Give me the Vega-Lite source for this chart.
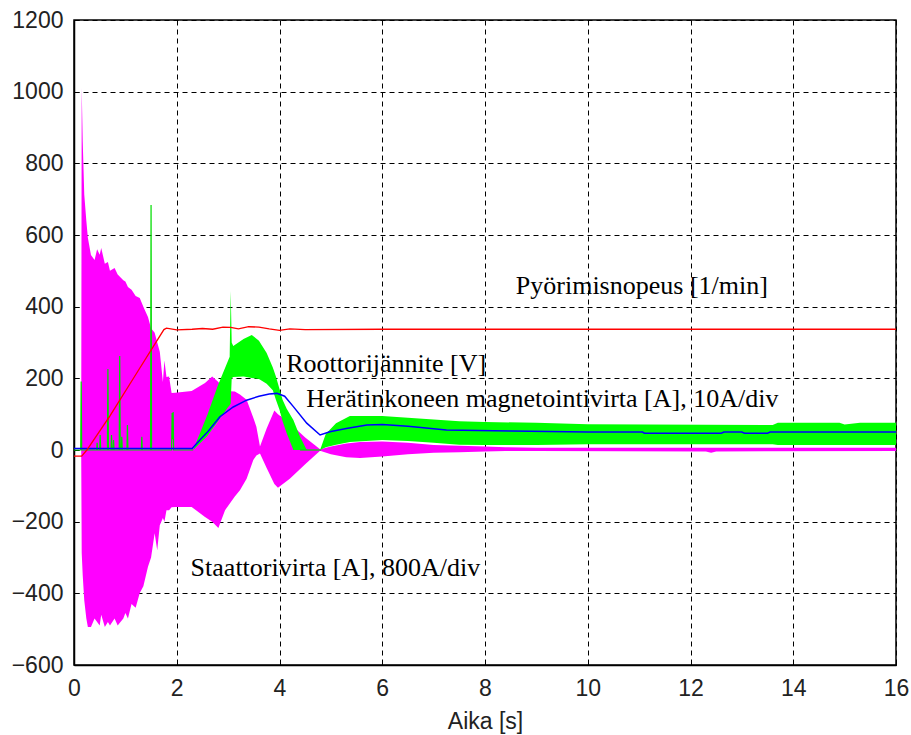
{
  "$schema": "https://vega.github.io/schema/vega-lite/v6.json",
  "width": 822,
  "height": 645,
  "autosize": {"type": "none"},
  "padding": {"left": 74, "top": 20, "right": 15, "bottom": 70},
  "background": "white",
  "config": {
    "view": {"stroke": "black", "strokeWidth": 1.5},
    "axis": {
      "labelFont": "Liberation Sans", "labelFontSize": 23, "labelColor": "#222",
      "titleFont": "Liberation Sans", "titleFontSize": 23, "titleFontWeight": "normal", "titleColor": "#222",
      "grid": true, "gridColor": "black", "gridDash": [5, 4], "gridOpacity": 1, "gridWidth": 1,
      "domainColor": "black", "domainWidth": 1.5, "tickColor": "black", "tickSize": -5
    }
  },
  "datasets": {
    "magenta": [
      {"t": 0.14, "lo": 0, "hi": 0},
      {"t": 0.15, "lo": -287, "hi": 1010},
      {"t": 0.17, "lo": -350, "hi": 860},
      {"t": 0.2, "lo": -420, "hi": 712},
      {"t": 0.24, "lo": -470, "hi": 640},
      {"t": 0.27, "lo": -494, "hi": 592},
      {"t": 0.33, "lo": -494, "hi": 544},
      {"t": 0.4, "lo": -470, "hi": 530},
      {"t": 0.45, "lo": -480, "hi": 560},
      {"t": 0.5, "lo": -490, "hi": 545},
      {"t": 0.53, "lo": -460, "hi": 564},
      {"t": 0.6, "lo": -494, "hi": 520},
      {"t": 0.66, "lo": -480, "hi": 525},
      {"t": 0.7, "lo": -490, "hi": 500},
      {"t": 0.79, "lo": -470, "hi": 508},
      {"t": 0.85, "lo": -490, "hi": 490},
      {"t": 0.96, "lo": -470, "hi": 474},
      {"t": 1.0, "lo": -455, "hi": 470},
      {"t": 1.05, "lo": -470, "hi": 455},
      {"t": 1.12, "lo": -430, "hi": 447},
      {"t": 1.2, "lo": -440, "hi": 430},
      {"t": 1.28, "lo": -399, "hi": 424},
      {"t": 1.35, "lo": -380, "hi": 400},
      {"t": 1.44, "lo": -326, "hi": 371},
      {"t": 1.5, "lo": -300, "hi": 340},
      {"t": 1.57, "lo": -232, "hi": 327},
      {"t": 1.62, "lo": -280, "hi": 300},
      {"t": 1.67, "lo": -210, "hi": 274},
      {"t": 1.73, "lo": -190, "hi": 190},
      {"t": 1.76, "lo": -200, "hi": 250},
      {"t": 1.8, "lo": -168, "hi": 204},
      {"t": 1.85, "lo": -168, "hi": 205},
      {"t": 1.9, "lo": -160, "hi": 159},
      {"t": 1.97, "lo": -159, "hi": 160},
      {"t": 2.29, "lo": -159, "hi": 165},
      {"t": 2.55, "lo": -187, "hi": 187},
      {"t": 2.69, "lo": -200, "hi": 205},
      {"t": 2.81, "lo": -218, "hi": 190},
      {"t": 2.94, "lo": -168, "hi": 165},
      {"t": 3.13, "lo": -130, "hi": 163},
      {"t": 3.23, "lo": -112, "hi": 155},
      {"t": 3.36, "lo": -80, "hi": 140},
      {"t": 3.49, "lo": -28, "hi": 90},
      {"t": 3.55, "lo": -15, "hi": 65},
      {"t": 3.62, "lo": -10, "hi": 10},
      {"t": 3.75, "lo": -50, "hi": 60},
      {"t": 3.9, "lo": -95, "hi": 110},
      {"t": 3.97, "lo": -105, "hi": 100},
      {"t": 4.2, "lo": -80, "hi": 75},
      {"t": 4.5, "lo": -40, "hi": 35},
      {"t": 4.79, "lo": -2, "hi": 2},
      {"t": 5.0, "lo": -12, "hi": 10},
      {"t": 5.3, "lo": -20, "hi": 18},
      {"t": 5.57, "lo": -22, "hi": 22},
      {"t": 6.0, "lo": -18, "hi": 24},
      {"t": 6.5, "lo": -12, "hi": 20},
      {"t": 7.0, "lo": -8, "hi": 14},
      {"t": 7.5, "lo": -6, "hi": 12},
      {"t": 8.0, "lo": -4, "hi": 10},
      {"t": 8.4, "lo": -3, "hi": 8},
      {"t": 9.0, "lo": -3, "hi": 6},
      {"t": 12.3, "lo": -4, "hi": 6},
      {"t": 12.4, "lo": -8, "hi": 6},
      {"t": 12.5, "lo": -4, "hi": 6},
      {"t": 16.0, "lo": -3, "hi": 6}
    ],
    "greenBand": [
      {"t": 2.32, "lo": 0, "hi": 0},
      {"t": 2.6, "lo": 40, "hi": 100},
      {"t": 2.8, "lo": 80, "hi": 180},
      {"t": 3.0, "lo": 120, "hi": 250},
      {"t": 3.03, "lo": 125, "hi": 260},
      {"t": 3.05, "lo": 130, "hi": 444},
      {"t": 3.07, "lo": 200, "hi": 300},
      {"t": 3.1, "lo": 204, "hi": 290},
      {"t": 3.3, "lo": 205, "hi": 310},
      {"t": 3.46, "lo": 201, "hi": 321},
      {"t": 3.6, "lo": 198, "hi": 305},
      {"t": 3.75, "lo": 185, "hi": 271},
      {"t": 3.87, "lo": 167, "hi": 230},
      {"t": 3.93, "lo": 140, "hi": 205},
      {"t": 4.0, "lo": 112, "hi": 170},
      {"t": 4.06, "lo": 80, "hi": 140},
      {"t": 4.14, "lo": 47, "hi": 115},
      {"t": 4.27, "lo": 0, "hi": 84},
      {"t": 4.4, "lo": 0, "hi": 37},
      {"t": 4.53, "lo": 0, "hi": 0},
      {"t": 4.79, "lo": 0, "hi": 0},
      {"t": 4.9, "lo": 8, "hi": 45},
      {"t": 5.1, "lo": 15, "hi": 75},
      {"t": 5.37, "lo": 22, "hi": 95},
      {"t": 6.0, "lo": 28, "hi": 95},
      {"t": 6.5, "lo": 25, "hi": 90},
      {"t": 7.0, "lo": 20, "hi": 85},
      {"t": 7.5, "lo": 15, "hi": 80},
      {"t": 8.0, "lo": 14, "hi": 78},
      {"t": 9.0, "lo": 14, "hi": 76},
      {"t": 10.0, "lo": 16, "hi": 72},
      {"t": 13.6, "lo": 16, "hi": 70},
      {"t": 13.7, "lo": 14, "hi": 76},
      {"t": 14.9, "lo": 14, "hi": 76},
      {"t": 15.0, "lo": 14, "hi": 71},
      {"t": 15.3, "lo": 14, "hi": 76},
      {"t": 16.0, "lo": 14, "hi": 76}
    ],
    "greenSpikes": [
      {"s": "a", "t": 0, "v": 0}, {"s": "a", "t": 0.13, "v": 0}, {"s": "a", "t": 0.14, "v": 191}, {"s": "a", "t": 0.15, "v": 0},
      {"s": "a", "t": 0.44, "v": 0}, {"s": "a", "t": 0.45, "v": 20}, {"s": "a", "t": 0.46, "v": 0},
      {"s": "a", "t": 0.5, "v": 0}, {"s": "a", "t": 0.51, "v": 42}, {"s": "a", "t": 0.52, "v": 0},
      {"s": "a", "t": 0.65, "v": 0}, {"s": "a", "t": 0.66, "v": 226}, {"s": "a", "t": 0.67, "v": 0},
      {"s": "a", "t": 0.72, "v": 0}, {"s": "a", "t": 0.73, "v": 42}, {"s": "a", "t": 0.74, "v": 0},
      {"s": "a", "t": 0.76, "v": 0}, {"s": "a", "t": 0.77, "v": 28}, {"s": "a", "t": 0.78, "v": 0},
      {"s": "a", "t": 0.88, "v": 0}, {"s": "a", "t": 0.89, "v": 262}, {"s": "a", "t": 0.9, "v": 0},
      {"s": "a", "t": 0.92, "v": 0}, {"s": "a", "t": 0.93, "v": 37}, {"s": "a", "t": 0.94, "v": 0},
      {"s": "a", "t": 1.03, "v": 0}, {"s": "a", "t": 1.04, "v": 70}, {"s": "a", "t": 1.05, "v": 0},
      {"s": "a", "t": 1.31, "v": 0}, {"s": "a", "t": 1.32, "v": 37}, {"s": "a", "t": 1.33, "v": 0},
      {"s": "a", "t": 1.49, "v": 0}, {"s": "a", "t": 1.5, "v": 684}, {"s": "a", "t": 1.51, "v": 0},
      {"s": "a", "t": 1.9, "v": 0}, {"s": "a", "t": 1.91, "v": 103}, {"s": "a", "t": 1.92, "v": 30}, {"s": "a", "t": 1.93, "v": 106}, {"s": "a", "t": 1.94, "v": 0},
      {"s": "a", "t": 2.32, "v": 0},
      {"s": "b", "t": 4.4, "v": 0}, {"s": "b", "t": 4.8, "v": 0}
    ],
    "blue": [
      {"t": 0, "v": 4}, {"t": 2.3, "v": 4}, {"t": 2.45, "v": 28}, {"t": 2.6, "v": 50},
      {"t": 2.84, "v": 93}, {"t": 3.1, "v": 120}, {"t": 3.36, "v": 139}, {"t": 3.6, "v": 150},
      {"t": 3.8, "v": 156}, {"t": 3.95, "v": 158}, {"t": 4.1, "v": 150}, {"t": 4.27, "v": 121},
      {"t": 4.53, "v": 75}, {"t": 4.79, "v": 42}, {"t": 4.98, "v": 51}, {"t": 5.3, "v": 60},
      {"t": 5.7, "v": 70}, {"t": 6.0, "v": 71}, {"t": 6.5, "v": 66}, {"t": 7.25, "v": 56},
      {"t": 8.5, "v": 53}, {"t": 10.0, "v": 50}, {"t": 11.07, "v": 50}, {"t": 11.1, "v": 47},
      {"t": 12.6, "v": 47}, {"t": 12.65, "v": 50}, {"t": 13.0, "v": 50}, {"t": 13.05, "v": 47},
      {"t": 13.5, "v": 47}, {"t": 13.55, "v": 50}, {"t": 16.0, "v": 50}
    ],
    "red": [
      {"t": 0, "v": -17}, {"t": 0.15, "v": -17}, {"t": 0.25, "v": 0}, {"t": 0.7, "v": 95},
      {"t": 1.2, "v": 210}, {"t": 1.75, "v": 336}, {"t": 1.8, "v": 340}, {"t": 2.0, "v": 335},
      {"t": 2.3, "v": 337}, {"t": 2.5, "v": 339}, {"t": 2.7, "v": 337}, {"t": 2.9, "v": 343},
      {"t": 3.05, "v": 342}, {"t": 3.2, "v": 338}, {"t": 3.4, "v": 344}, {"t": 3.6, "v": 343},
      {"t": 3.8, "v": 338}, {"t": 4.0, "v": 334}, {"t": 4.2, "v": 338}, {"t": 4.5, "v": 336},
      {"t": 6.0, "v": 337}, {"t": 10.0, "v": 337}, {"t": 16.0, "v": 337}
    ],
    "labels": [
      {"t": 8.6, "v": 435, "text": "Pyörimisnopeus [1/min]"},
      {"t": 4.13, "v": 217, "text": "Roottorijännite [V]"},
      {"t": 4.52, "v": 121, "text": "Herätinkoneen magnetointivirta [A], 10A/div"},
      {"t": 2.27, "v": -352, "text": "Staattorivirta [A], 800A/div"}
    ]
  },
  "encoding": {
    "x": {"field": "t", "type": "quantitative", "scale": {"domain": [0, 16], "nice": false},
          "axis": {"values": [0, 2, 4, 6, 8, 10, 12, 14, 16], "format": "d", "title": "Aika [s]", "labelPadding": 17, "titlePadding": 10, "labelFlush": false}},
    "y": {"field": "v", "type": "quantitative", "scale": {"domain": [-600, 1200], "nice": false},
          "axis": {"values": [-600, -400, -200, 0, 200, 400, 600, 800, 1000, 1200], "format": "d", "title": null, "labelPadding": 16, "labelFlush": false}}
  },
  "layer": [
    {"data": {"name": "magenta"}, "mark": {"type": "area", "color": "#FF00FF", "opacity": 1},
     "encoding": {"y": {"field": "hi", "type": "quantitative"}, "y2": {"field": "lo"}}},
    {"data": {"name": "greenBand"}, "mark": {"type": "area", "color": "#00FF00", "opacity": 1},
     "encoding": {"y": {"field": "hi", "type": "quantitative"}, "y2": {"field": "lo"}}},
    {"data": {"name": "greenSpikes"}, "mark": {"type": "line", "color": "#00DD00", "strokeWidth": 1.2},
     "encoding": {"detail": {"field": "s"}}},
    {"data": {"name": "blue"}, "mark": {"type": "line", "color": "#0000FF", "strokeWidth": 1.5}, "encoding": {}},
    {"data": {"name": "red"}, "mark": {"type": "line", "color": "#FF0000", "strokeWidth": 1.3}, "encoding": {}},
    {"data": {"name": "labels"}, "mark": {"type": "text", "align": "left", "baseline": "alphabetic", "font": "Liberation Serif", "fontSize": 26, "color": "black"},
     "encoding": {"text": {"field": "text"}}}
  ]
}
